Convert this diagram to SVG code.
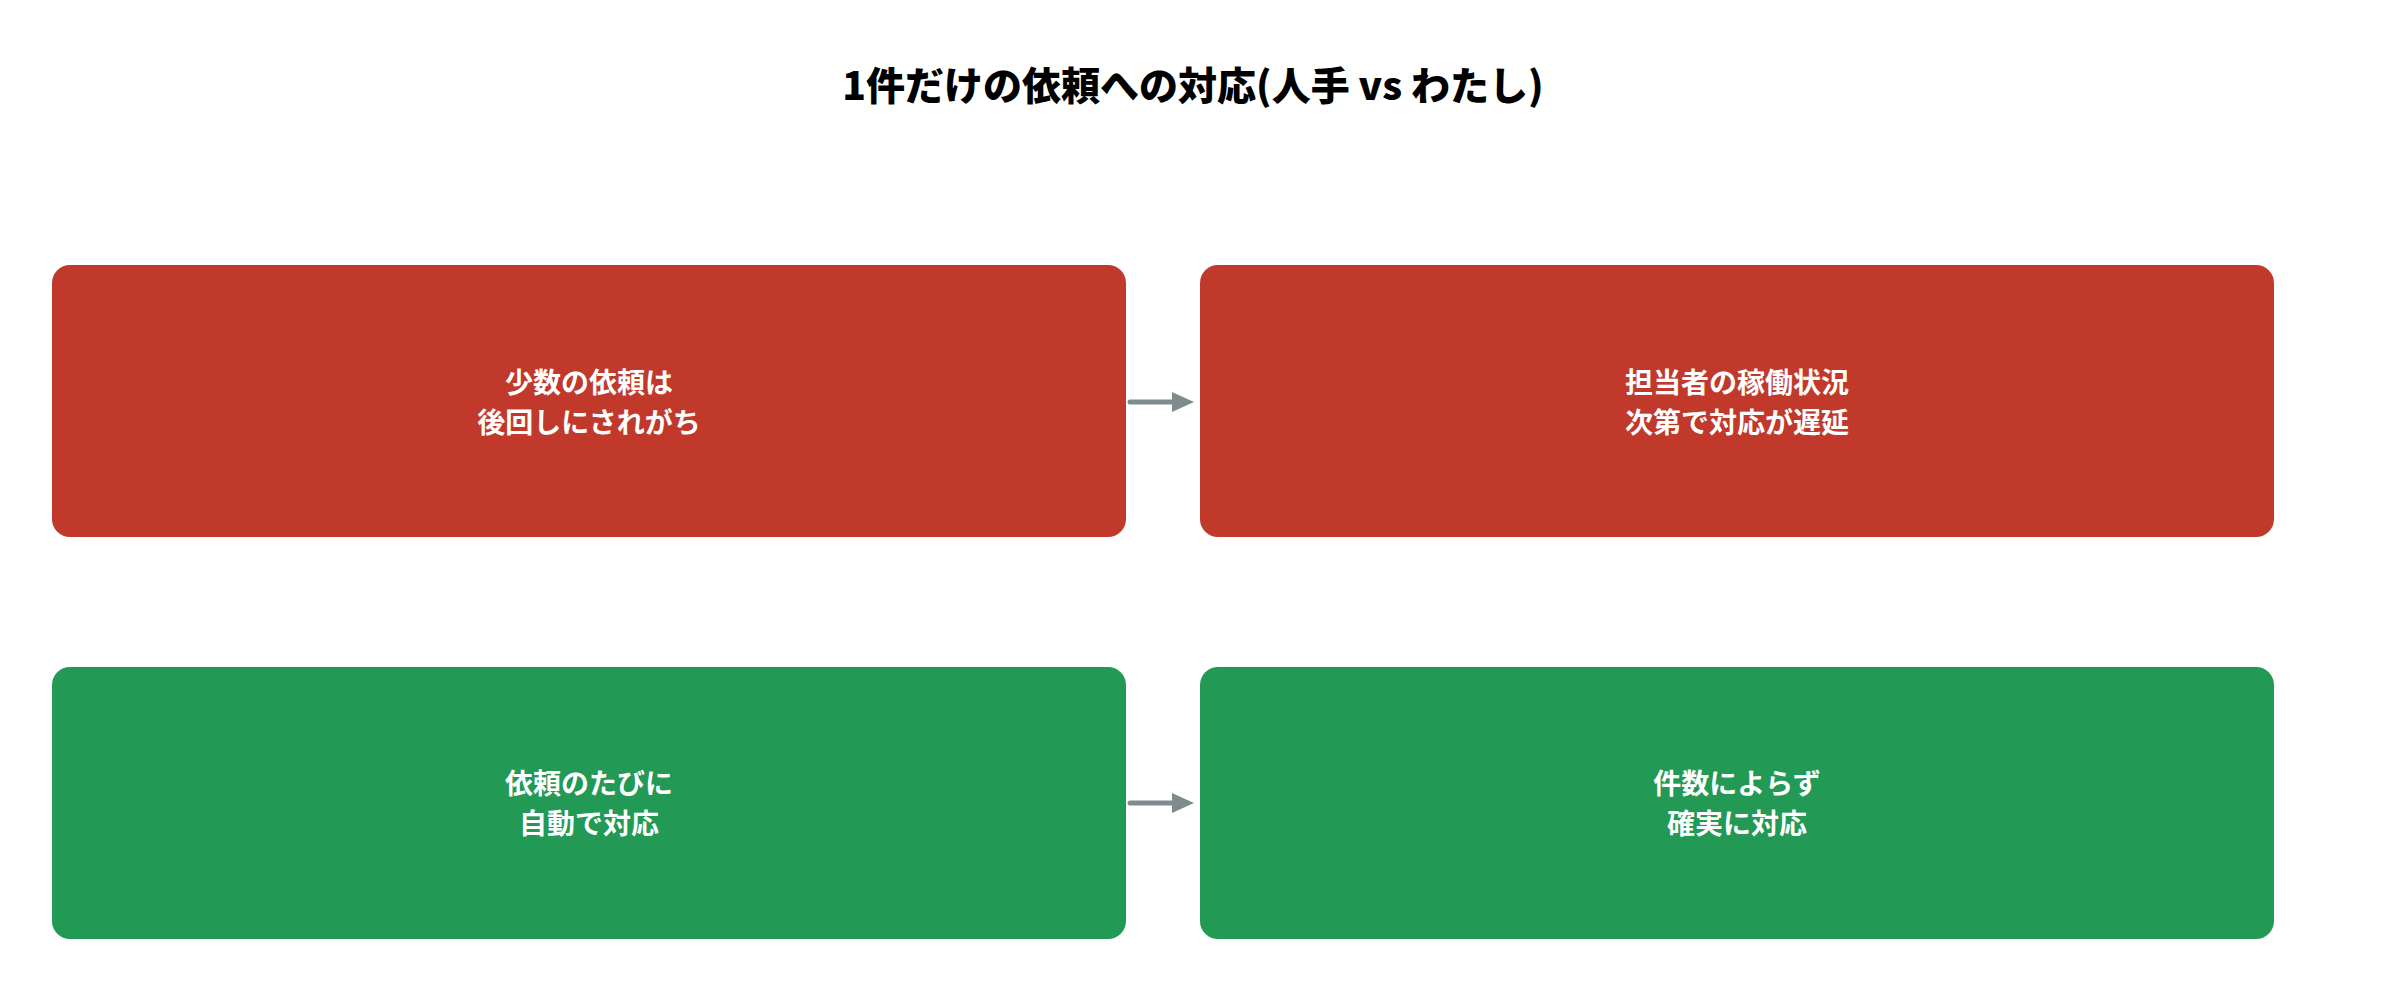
<svg xmlns="http://www.w3.org/2000/svg" width="2385" height="1005" viewBox="0 0 2385 1005">
<defs>
<style>
.t{font-family:"Noto Sans CJK JP","Noto Sans",sans-serif;font-weight:bold;text-anchor:middle}
.title{font-size:39px;fill:#000;font-weight:900}
.lbl{font-size:28px;fill:#fff}
.red{fill:#c0392b}
.green{fill:#229954}
.edge{stroke:#7f8c8d;stroke-width:5;fill:none;stroke-linecap:round}
</style>
</defs>
<rect width="2385" height="1005" fill="#fff"/>
<text class="t title" x="1193" y="100">1件だけの依頼への対応(人手 vs わたし)</text>
<g id="connectors">
<line class="edge" x1="1130" y1="402" x2="1174" y2="402"/>
<path d="M1172,392 L1194,402 L1172,412 Z" fill="#7f8c8d"/>
<line class="edge" x1="1130" y1="803" x2="1174" y2="803"/>
<path d="M1172,793 L1194,803 L1172,813 Z" fill="#7f8c8d"/>
</g>
<g id="n1">
<rect class="red" x="52" y="265" width="1074" height="272" rx="18"/>
<text class="t lbl" x="589" y="393">少数の依頼は</text>
<text class="t lbl" x="589" y="433">後回しにされがち</text>
</g>
<g id="n2">
<rect class="red" x="1200" y="265" width="1074" height="272" rx="18"/>
<text class="t lbl" x="1737" y="393">担当者の稼働状況</text>
<text class="t lbl" x="1737" y="433">次第で対応が遅延</text>
</g>
<g id="n3">
<rect class="green" x="52" y="667" width="1074" height="272" rx="18"/>
<text class="t lbl" x="589" y="794">依頼のたびに</text>
<text class="t lbl" x="589" y="834">自動で対応</text>
</g>
<g id="n4">
<rect class="green" x="1200" y="667" width="1074" height="272" rx="18"/>
<text class="t lbl" x="1737" y="794">件数によらず</text>
<text class="t lbl" x="1737" y="834">確実に対応</text>
</g>
</svg>
